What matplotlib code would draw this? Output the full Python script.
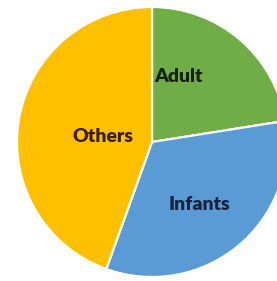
import matplotlib
matplotlib.use('Agg')
import matplotlib.pyplot as plt
import numpy as np

# Données (parts en %)
labels = ['Adult', 'Infants', 'Others']
shares = [22.5, 33.0, 44.5]
colors = ['#70AD47', '#5B9BD5', '#FFC000']
text_colors = ['#15220a', '#14233f', '#3a1d00']

W, H = 277, 281
fig = plt.figure(figsize=(W / 100, H / 100), dpi=100)
ax = fig.add_axes([0, 0, 1, 1])

# Camembert centré en coordonnées pixels, coupé à droite comme l'original
cx, cy, r = 152, H - 142, 135
wedges, _ = ax.pie(
    shares,
    colors=colors,
    startangle=90,
    counterclock=False,
    center=(cx, cy),
    radius=r,
    wedgeprops=dict(edgecolor='white', linewidth=1.6),
)

# Étiquettes placées à la main (décalages depuis le centre)
offsets = [(26, 66), (47, -62), (-49, 5)]
for lab, (dx, dy), tc in zip(labels, offsets, text_colors):
    ax.text(cx + dx, cy + dy, lab, ha='center', va='center',
            fontsize=14, fontweight='heavy', color=tc, family='Lato')

ax.set_xlim(0, W)
ax.set_ylim(0, H)
ax.set_aspect('auto')
ax.axis('off')

plt.savefig('out.png', dpi=100)
